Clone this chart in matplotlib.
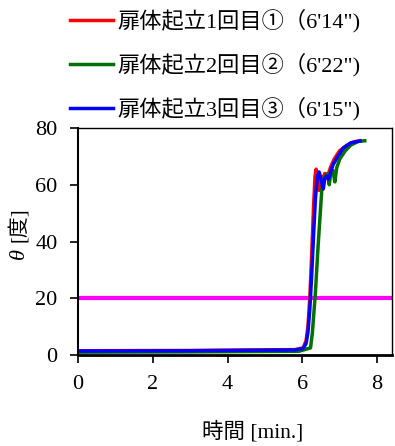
import numpy as np
import matplotlib
matplotlib.use('Agg')
import matplotlib.pyplot as plt

plt.rcParams['font.family'] = ['Liberation Serif', 'Noto Sans CJK JP']

# 扉体起立の角度変化 (時間 [min.], 角度 [度])
t_run1 = [0.0, 3.0, 5.8, 6.02, 6.1, 6.15, 6.2, 6.25, 6.3, 6.34, 6.37, 6.41, 6.45,
          6.5, 6.55, 6.6, 6.68, 6.75, 6.85, 7.0, 7.2, 7.4, 7.55]
a_run1 = [1.5, 1.6, 1.9, 2.5, 5, 10, 20, 35, 52, 63, 65.5, 62, 58,
          63, 62, 64, 63, 66, 69, 72, 74, 75.2, 75.5]

t_run2 = [0.0, 3.0, 5.9, 6.22, 6.27, 6.31, 6.35, 6.42, 6.47, 6.52, 6.56, 6.62,
          6.68, 6.72, 6.76, 6.82, 6.87, 6.92, 7.0, 7.15, 7.3, 7.5, 7.67]
a_run2 = [1.0, 1.1, 1.3, 2.5, 8, 15, 22, 38, 48, 58, 62, 63,
          64, 60, 64, 65, 61, 66, 69, 72, 74, 75.3, 75.5]

t_run3 = [0.0, 3.0, 5.8, 6.02, 6.1, 6.15, 6.2, 6.25, 6.3, 6.35, 6.4, 6.45, 6.5,
          6.56, 6.6, 6.65, 6.7, 6.75, 6.82, 6.95, 7.1, 7.3, 7.54]
a_run3 = [1.4, 1.5, 1.8, 2.3, 4, 8, 16, 28, 42, 55, 63, 64.5, 62,
          58.5, 62, 63, 62, 64, 67, 70, 73, 74.8, 75.4]

labels = ['扉体起立1回目①（6\'14")',
          '扉体起立2回目②（6\'22")',
          '扉体起立3回目③（6\'15")']
colors = ['#ff0000', '#007000', '#0000ff']
threshold = 20

fig = plt.figure(figsize=(3.95, 4.46), dpi=100)
ax = fig.add_axes([0.1975, 0.204, 0.795, 0.509])

lines = []
for t, a, c, lab in zip([t_run1, t_run2, t_run3], [a_run1, a_run2, a_run3], colors, labels):
    ln, = ax.plot(t, a, color=c, lw=2.5, label=lab, solid_joinstyle='round')
    lines.append(ln)

ax.axhline(threshold, color='#ff00ff', lw=3, zorder=1)

ax.set_xlim(0, 8.4)
ax.set_ylim(0, 80)
ax.set_xticks([0, 2, 4, 6, 8])
ax.set_yticks([0, 20, 40, 60, 80])
ax.tick_params(labelsize=16, length=5.8, width=1.2, direction='out')
ax.tick_params(axis='y', pad=9)
ax.tick_params(axis='x', pad=8.5)

ax.spines['bottom'].set_linewidth(2)
ax.spines['left'].set_linewidth(1.5)
ax.spines['top'].set_linewidth(1)
ax.spines['right'].set_linewidth(1)

ax.set_xlabel('時間 [min.]', fontsize=15.5)
ax.xaxis.set_label_coords(0.557, -0.29)

# 縦軸ラベル: θ はイタリック、単位は別テキスト
ax.text(-0.188, 0.449, 'θ', transform=ax.transAxes, rotation=90,
        ha='center', va='center', fontsize=16, style='italic')
ax.text(-0.188, 0.575, '[度]', transform=ax.transAxes, rotation=90,
        ha='center', va='center', fontsize=15)

fig.legend(handles=lines, loc='upper left', bbox_to_anchor=(0.148, 1.005),
           frameon=False, fontsize=16, handlelength=1.94, handletextpad=0.2,
           labelspacing=0.93, borderpad=0.0)

fig.savefig('out.png', dpi=100)
